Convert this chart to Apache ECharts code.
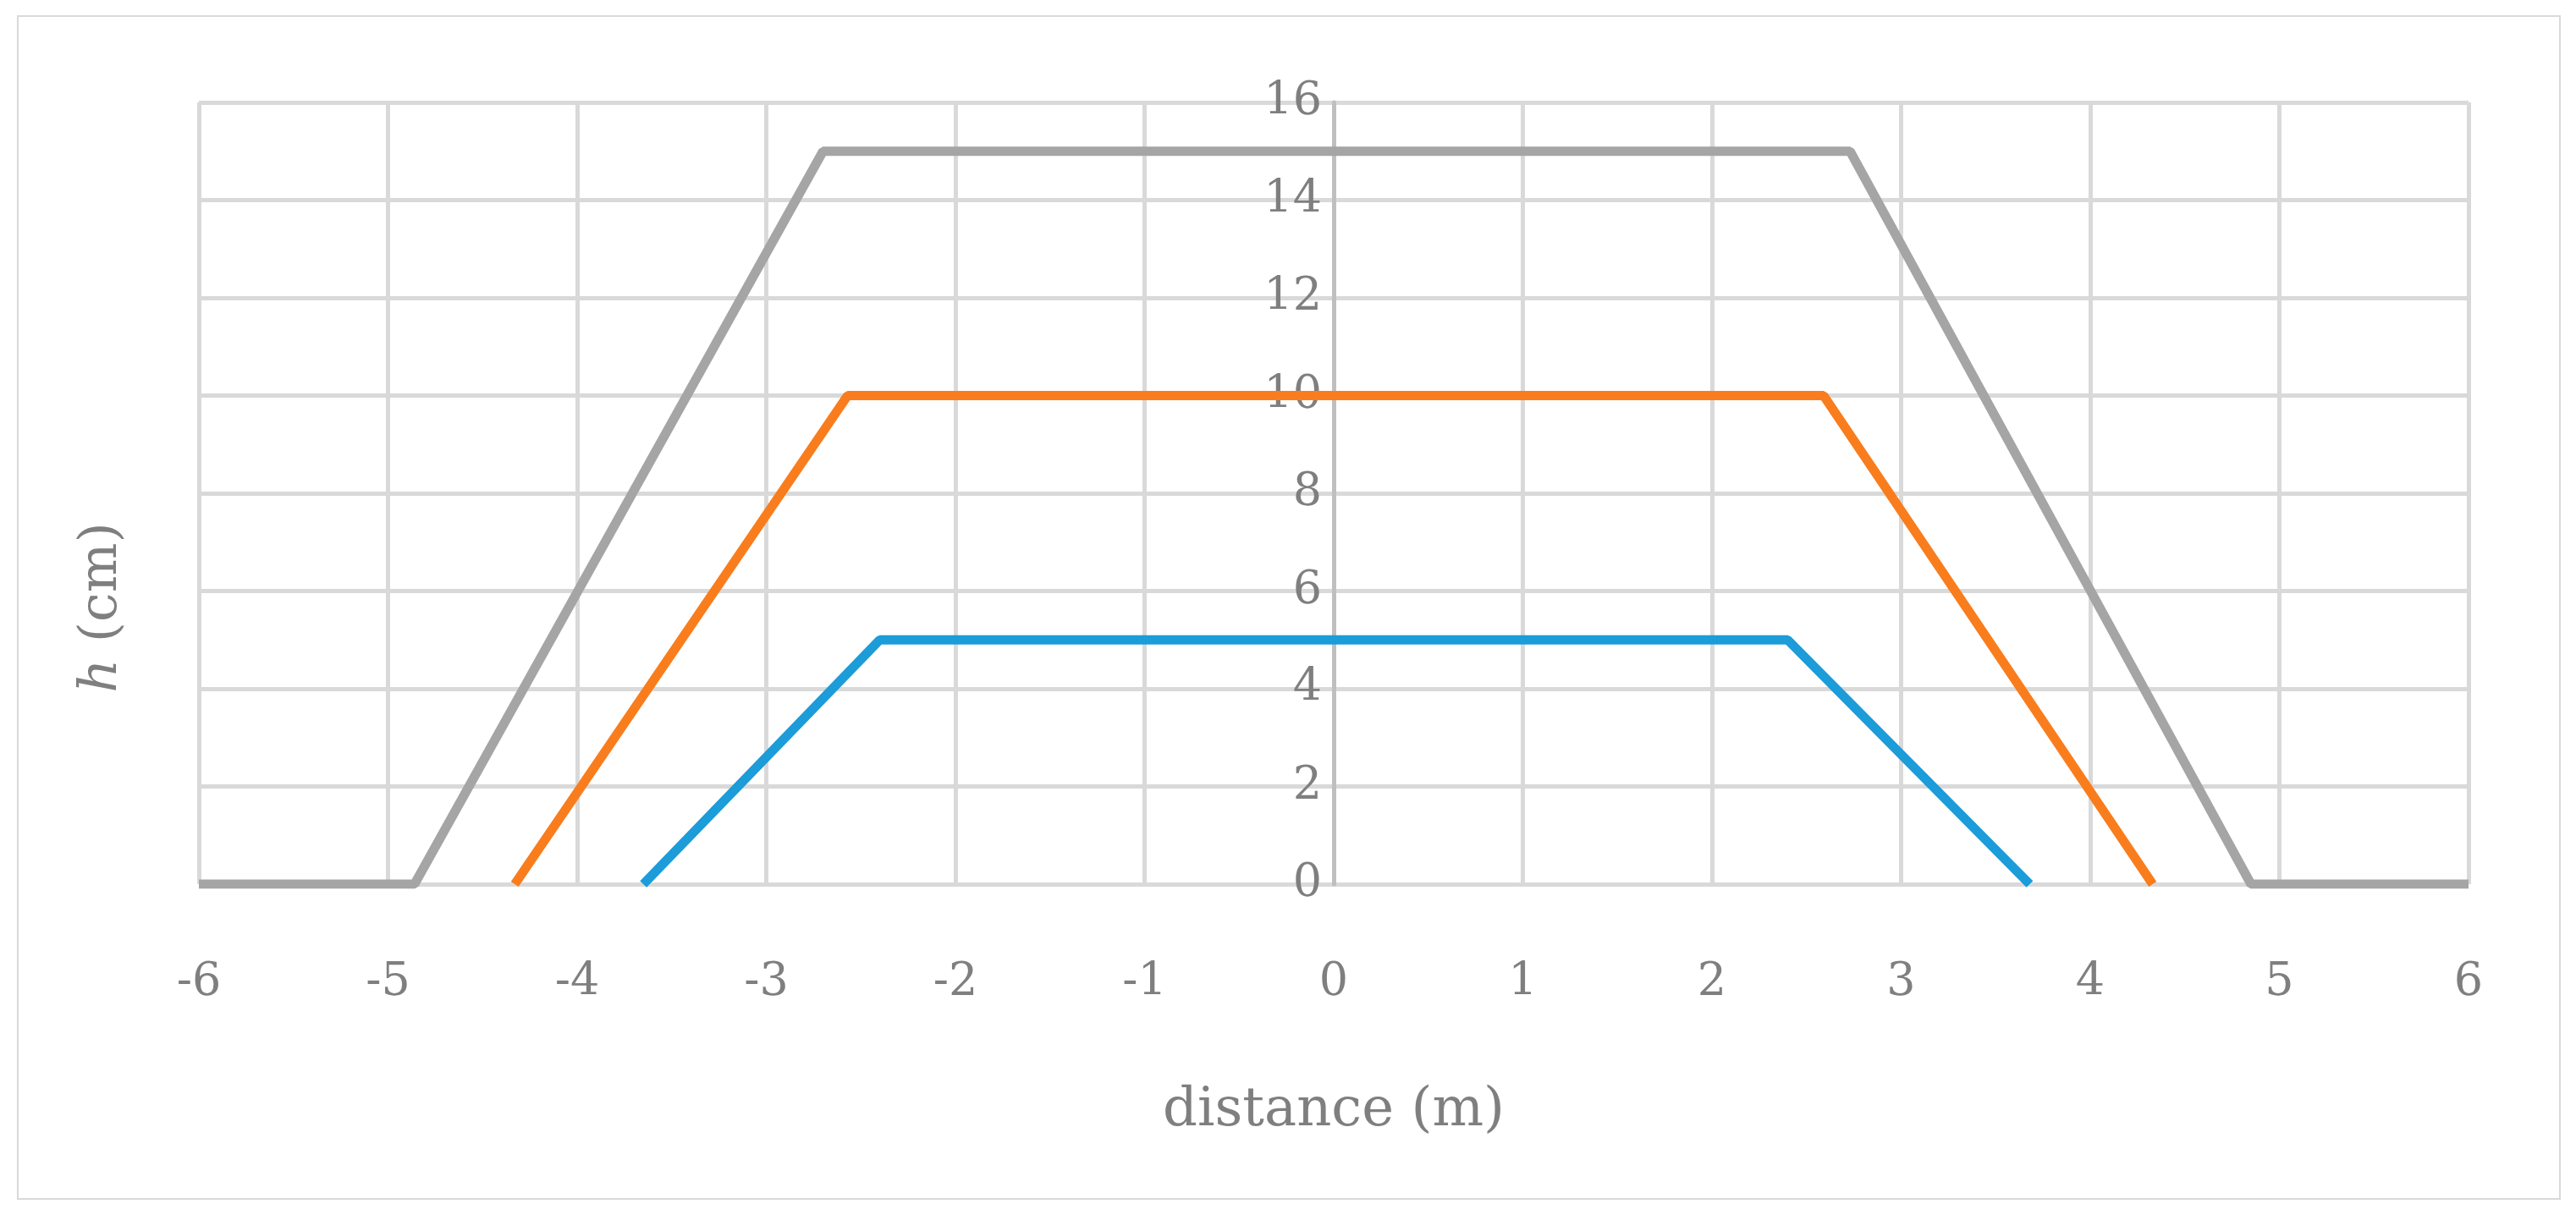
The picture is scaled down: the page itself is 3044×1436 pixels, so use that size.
<!DOCTYPE html>
<html lang="en">
<head>
<meta charset="UTF-8" />
<title>h vs distance</title>
<style>
  html, body { margin: 0; padding: 0; background: #fff; }
  #frame { position: absolute; left: 20px; top: 18px; width: 3002px; height: 1396px; border: 2px solid #d9d9d9; }
  #main { width: 3044px; height: 1436px; }
</style>
</head>
<body>
<div id="frame"></div>
<div id="main"></div>
<script src="https://cdn.jsdelivr.net/npm/echarts@6/dist/echarts.min.js"></script>
<script>
  // data
  var grayX = [-6, -4.86, -2.70, 2.73, 4.85, 6];
  var grayY = [0, 0, 15, 15, 0, 0];
  var orangeX = [-4.33, -2.57, 2.59, 4.33];
  var orangeY = [0, 10, 10, 0];
  var blueX = [-3.65, -2.40, 2.40, 3.68];
  var blueY = [0, 5, 5, 0];

  function pairs(xs, ys) { return xs.map(function (x, i) { return [x, ys[i]]; }); }

  var font = '"DejaVu Serif", "Liberation Serif", serif';
  var txt = '#7f7f7f';
  var gridLine = { show: true, lineStyle: { color: '#d9d9d9', width: 5 } };
  var plotW = 3044 - 235 - 127;

  var myChart = echarts.init(document.getElementById('main'));
  myChart.setOption({
    animation: false,
    grid: { left: 235, right: 127, top: 121, bottom: 391, outerBoundsMode: 'none', containLabel: false },
    graphic: [{
      type: 'text', left: 90, top: 'middle', rotation: Math.PI / 2,
      style: {
        text: '{i|h} (cm)', fill: txt, font: '62px ' + font,
        rich: { i: { fontFamily: font, fontStyle: 'italic', fontSize: 62, fill: txt } }
      },
      x: 126, y: 790
    }],
    xAxis: {
      type: 'value', min: -6, max: 6, interval: 1,
      name: 'distance (m)', nameLocation: 'middle', nameGap: 236,
      nameTextStyle: { fontFamily: font, fontSize: 64, color: txt },
      axisLine: { show: false }, axisTick: { show: false },
      axisLabel: { fontFamily: font, fontSize: 54, color: txt, margin: 90 },
      splitLine: gridLine
    },
    yAxis: {
      type: 'value', min: 0, max: 16, interval: 2, offset: -plotW / 2,
      axisLine: { show: true, onZero: false, lineStyle: { color: '#bfbfbf', width: 5 } },
      axisTick: { show: false },
      axisLabel: { fontFamily: font, fontSize: 54, color: txt, margin: 14 },
      splitLine: gridLine
    },
    series: [
      { type: 'line', data: pairs(grayX, grayY), showSymbol: false, lineStyle: { color: '#a5a5a5', width: 11 }, itemStyle: { color: '#a5a5a5' } },
      { type: 'line', data: pairs(orangeX, orangeY), showSymbol: false, lineStyle: { color: '#f97d1d', width: 11 }, itemStyle: { color: '#f97d1d' } },
      { type: 'line', data: pairs(blueX, blueY), showSymbol: false, lineStyle: { color: '#1c9cd8', width: 11 }, itemStyle: { color: '#1c9cd8' } }
    ]
  });
</script>
</body>
</html>
